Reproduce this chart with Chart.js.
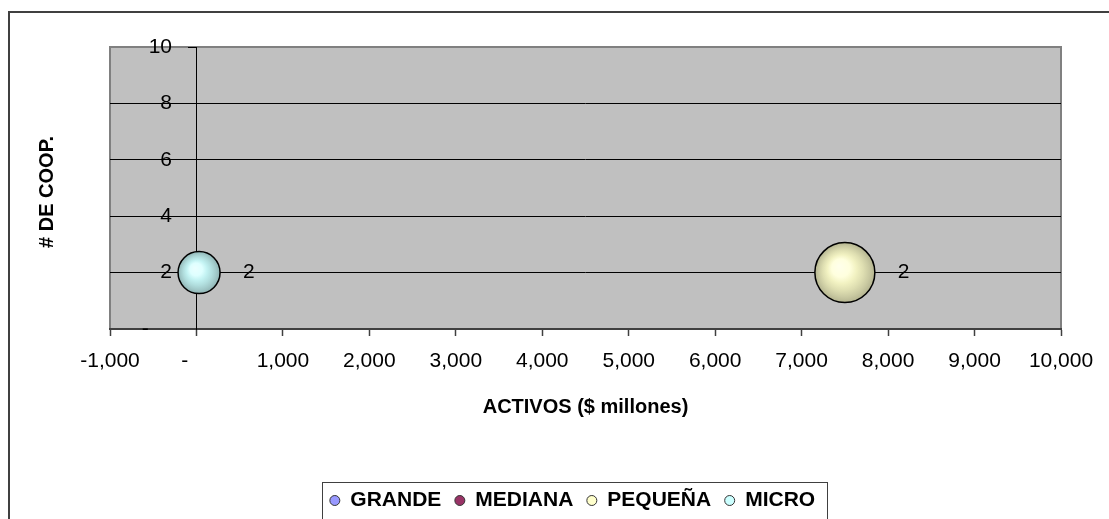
<!DOCTYPE html>
<html>
<head>
<meta charset="utf-8">
<script src="https://cdn.jsdelivr.net/npm/chart.js@4.4.1/dist/chart.umd.min.js"></script>
<style>
html,body{margin:0;padding:0;background:#fff;overflow:hidden}
canvas{display:block}
</style>
</head>
<body>
<canvas id="c" width="1109" height="519"></canvas>
<script>
// ---- data ----
const seriesNames = ['GRANDE', 'MEDIANA', 'PEQUEÑA', 'MICRO'];
const seriesColors = ['#9999FF', '#993366', '#FFFFCC', '#CCFFFF'];
const activos = [[], [], [7500], [30]];        // x: ACTIVOS ($ millones)
const numCoop = [[], [], [2], [2]];            // y: # DE COOP.
const bubbleRadius = [[], [], [30], [21]];     // bubble size
const xTitle = 'ACTIVOS ($ millones)';
const yTitle = '# DE COOP.';
const xMin = -1000, xMax = 10000, xStep = 1000;
const yMin = 0, yMax = 10, yStep = 2;

const FONT = "'Liberation Sans', Arial, Helvetica, sans-serif";
Chart.defaults.font.family = FONT;
Chart.defaults.color = '#000';

function rgbOf(hex) {
  const n = parseInt(hex.slice(1), 16);
  return [(n >> 16) & 255, (n >> 8) & 255, n & 255];
}
function shade(hex, f) {
  const c = rgbOf(hex).map(v => Math.max(0, Math.min(255, Math.round(v * f))));
  return `rgb(${c[0]},${c[1]},${c[2]})`;
}
function lighten(hex, t) {
  const c = rgbOf(hex).map(v => Math.round(v + (255 - v) * t));
  return `rgb(${c[0]},${c[1]},${c[2]})`;
}

function bubbleFill(ctx) {
  const base = seriesColors[ctx.datasetIndex];
  if (ctx.type !== 'data' || !ctx.raw) return base;
  const chart = ctx.chart;
  const xs = chart.scales.x, ys = chart.scales.y;
  if (!xs || !ys || !chart.chartArea) return base;
  const cx = xs.getPixelForValue(ctx.raw.x);
  const cy = ys.getPixelForValue(ctx.raw.y);
  const r = ctx.raw.r;
  const g = chart.ctx.createRadialGradient(cx - 0.2 * r, cy - 0.22 * r, 0, cx, cy, r);
  g.addColorStop(0, lighten(base, 0.6));
  g.addColorStop(0.3, lighten(base, 0.35));
  g.addColorStop(0.48, shade(base, 0.95));
  g.addColorStop(0.68, shade(base, 0.87));
  g.addColorStop(0.85, shade(base, 0.79));
  g.addColorStop(1, shade(base, 0.7));
  return g;
}

const datasets = seriesNames.map((name, i) => ({
  label: name,
  data: activos[i].map((x, j) => ({ x: x, y: numCoop[i][j], r: bubbleRadius[i][j] })),
  backgroundColor: bubbleFill,
  borderColor: '#000',
  borderWidth: 1.5,
  hoverRadius: 0,
  yAxisID: 'y'
}));

const frameAndPlot = {
  id: 'frameAndPlot',
  beforeDraw(chart) {
    const { ctx, chartArea: a } = chart;
    ctx.save();
    ctx.strokeStyle = '#404040';
    ctx.lineWidth = 2;
    ctx.strokeRect(9, 12, 1200, 600);
    ctx.fillStyle = '#C0C0C0';
    ctx.fillRect(a.left, a.top, a.right - a.left, a.bottom - a.top);
    ctx.strokeStyle = '#808080';
    ctx.lineWidth = 2;
    ctx.strokeRect(a.left, a.top, a.right - a.left, a.bottom - a.top);
    ctx.restore();
  },
  afterLayout(chart) {
    const lg = chart.legend;
    if (lg) { lg.left -= 13; lg.right -= 13; lg.top += 2; lg.bottom += 2; }
  },
  afterDatasetsDraw(chart) {
    const ctx = chart.ctx;
    ctx.save();
    ctx.font = `21px ${FONT}`;
    ctx.fillStyle = '#000';
    ctx.textAlign = 'left';
    ctx.textBaseline = 'middle';
    chart.data.datasets.forEach((ds, i) => {
      const meta = chart.getDatasetMeta(i);
      meta.data.forEach((el, j) => {
        const r = el.options.radius;
        ctx.fillText(String(ds.data[j].y), el.x + r + 23, el.y);
      });
    });
    ctx.restore();
  },
  afterDraw(chart) {
    const ctx = chart.ctx;
    const a = chart.chartArea;
    ctx.save();
    ctx.translate(47, (a.top + a.bottom) / 2 + 4);
    ctx.rotate(-Math.PI / 2);
    ctx.font = `bold 20px ${FONT}`;
    ctx.fillStyle = '#000';
    ctx.textAlign = 'center';
    ctx.textBaseline = 'middle';
    ctx.fillText(yTitle, 0, 0);
    ctx.restore();
    const lg = chart.legend;
    if (lg && lg.legendHitBoxes && lg.legendHitBoxes.length) {
      const hb = lg.legendHitBoxes;
      const first = hb[0], last = hb[hb.length - 1];
      const l = first.left - 8, r = last.left + last.width + 12, t = first.top - 8;
      ctx.save();
      ctx.strokeStyle = '#404040';
      ctx.lineWidth = 1;
      ctx.strokeRect(Math.round(l) + 0.5, Math.round(t) + 0.5, Math.round(r - l), 80);
      ctx.restore();
    }
  }
};

const yTickLabel = (v) => v === 0 ? '-    ' : String(v);

new Chart(document.getElementById('c'), {
  type: 'bubble',
  data: { datasets },
  plugins: [frameAndPlot],
  options: {
    responsive: false,
    animation: false,
    events: [],
    layout: { padding: { left: 110, top: 47, right: 48, bottom: 0 } },
    plugins: {
      tooltip: { enabled: false },
      legend: {
        position: 'bottom',
        labels: {
          usePointStyle: true,
          boxWidth: 10,
          boxHeight: 7.07,
          padding: 13.5,
          color: '#000',
          font: { size: 21, weight: 'bold', family: FONT },
          generateLabels: (chart) => chart.data.datasets.map((ds, i) => ({
            text: ds.label,
            fillStyle: seriesColors[i],
            strokeStyle: '#333',
            lineWidth: 1,
            pointStyle: 'circle',
            hidden: false,
            datasetIndex: i,
            fontColor: '#000'
          }))
        }
      }
    },
    scales: {
      x: {
        type: 'linear',
        position: 'bottom',
        min: xMin,
        max: xMax,
        afterFit: (scale) => { scale.height = 145.5; },
        ticks: {
          stepSize: xStep,
          autoSkip: false,
          maxRotation: 0,
          minRotation: 0,
          padding: 13,
          color: '#000',
          font: { size: 21, family: FONT },
          callback: (v) => v === 0 ? '-    ' : Number(v).toLocaleString('en-US')
        },
        grid: {
          drawOnChartArea: false,
          drawTicks: true,
          tickLength: 7,
          color: '#404040',
          tickColor: '#404040',
          tickWidth: 1.5
        },
        border: { display: true, color: '#404040', width: 2 },
        title: {
          display: true,
          text: xTitle,
          color: '#000',
          font: { size: 20, weight: 'bold', family: FONT },
          padding: { top: 0, bottom: 55 }
        }
      },
      y: {
        type: 'linear',
        position: { x: 0 },
        min: yMin,
        max: yMax,
        ticks: { stepSize: yStep, display: false },
        grid: {
          color: (c) => (c.tick && (c.tick.value === yMin || c.tick.value === yMax)) ? 'rgba(0,0,0,0)' : '#000',
          tickColor: '#000',
          tickLength: 8,
          lineWidth: 1
        },
        border: { display: true, color: '#000', width: 1 }
      },
      yLabels: {
        type: 'linear',
        position: { x: -283 },
        min: yMin,
        max: yMax,
        ticks: {
          stepSize: yStep,
          color: '#000',
          font: { size: 21, family: FONT },
          callback: yTickLabel
        },
        grid: { display: false, drawTicks: false },
        border: { display: false }
      }
    }
  }
});
</script>
</body>
</html>
